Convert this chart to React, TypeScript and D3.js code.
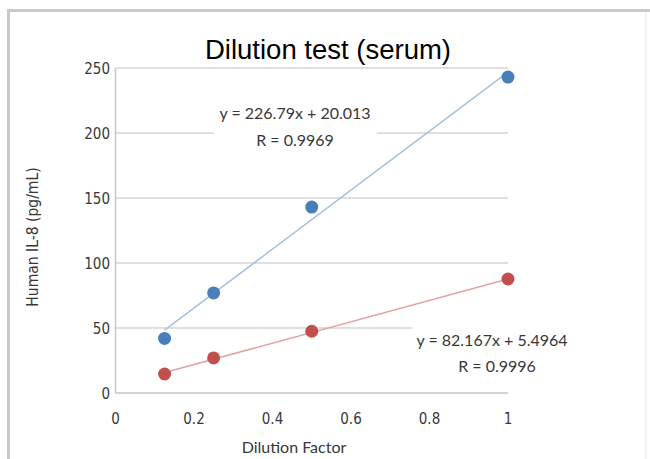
import React from "react";
import * as d3 from "d3";

const dilution = [0.125, 0.25, 0.5, 1];
const serumA = [42, 77, 143, 243];
const serumB = [14.6, 27, 47.5, 87.7];
const fitA = { slope: 226.79, intercept: 20.013, eq: "y = 226.79x + 20.013", r: "R = 0.9969" };
const fitB = { slope: 82.167, intercept: 5.4964, eq: "y = 82.167x + 5.4964", r: "R = 0.9996" };
const xTicks = [0, 0.2, 0.4, 0.6, 0.8, 1];
const yTicks = [0, 50, 100, 150, 200, 250];

export default function App() {
  const W = 650, H = 459;
  const x = d3.scaleLinear().domain([0, 1]).range([115.5, 508]);
  const y = d3.scaleLinear().domain([0, 250]).range([393, 68]);
  const fitLine = (f: typeof fitA) =>
    d3.line<number>().x((d) => x(d)).y((d) => y(f.slope * d + f.intercept))([dilution[0], dilution[dilution.length - 1]]) || "";
  const tickFont = "DejaVu Sans, sans-serif";
  const tickStyle = { fontStretch: "condensed" as const };
  const eqFont = "Lato, Open Sans, sans-serif";
  return (
    <svg width={W} height={H} style={{ position: "absolute", left: 0, top: 0, background: "#fff" }}>
      <rect x={0} y={0} width={W} height={H} fill="#fff" />
      {/* frame */}
      <line x1={8.5} y1={9} x2={8.5} y2={H} stroke="#c9c9c9" strokeWidth={3} />
      <line x1={7} y1={10.5} x2={W} y2={10.5} stroke="#c9c9c9" strokeWidth={3} />
      <line x1={646} y1={12} x2={646} y2={H} stroke="#f0f0f0" strokeWidth={1.5} />
      {/* gridlines */}
      {yTicks.filter((t) => t > 0).map((t) => (
        <line key={t} x1={x(0)} x2={x(1)} y1={y(t)} y2={y(t)} stroke="#d6d6d6" strokeWidth={1.5} />
      ))}
      {/* axes */}
      <line x1={x(0)} x2={x(0)} y1={y(250)} y2={y(0)} stroke="#c6c6c6" strokeWidth={1.5} />
      <line x1={x(0)} x2={x(1)} y1={y(0)} y2={y(0)} stroke="#c6c6c6" strokeWidth={1.5} />
      {/* tick labels */}
      {yTicks.map((t) => (
        <text key={t} x={110} y={y(t) + 5.5} textAnchor="end" fontFamily={tickFont} style={tickStyle} fontSize={15} fill="#383838">{t}</text>
      ))}
      {xTicks.map((t) => (
        <text key={t} x={x(t)} y={424} textAnchor="middle" fontFamily={tickFont} style={tickStyle} fontSize={15} fill="#383838">{d3.format("~g")(t)}</text>
      ))}
      {/* trendlines */}
      <path d={fitLine(fitA)} stroke="#a7bfe0" strokeWidth={1.5} fill="none" />
      <path d={fitLine(fitB)} stroke="#e4a3a1" strokeWidth={1.5} fill="none" />
      {/* points */}
      {dilution.map((d, i) => (
        <circle key={"a" + i} cx={x(d)} cy={y(serumA[i])} r={6.5} fill="#4a7ebb" />
      ))}
      {dilution.map((d, i) => (
        <circle key={"b" + i} cx={x(d)} cy={y(serumB[i])} r={6.5} fill="#c0504d" />
      ))}
      {/* equation labels */}
      <rect x={214} y={100} width={163} height={50} fill="#fff" />
      <text x={295} y={119} textAnchor="middle" fontFamily={eqFont} fontSize={16} fill="#383838">{fitA.eq}</text>
      <text x={295} y={146} textAnchor="middle" fontFamily={eqFont} fontSize={16} fill="#383838">{fitA.r}</text>
      <rect x={412} y={323} width={160} height={52} fill="#fff" />
      <text x={492} y={346} textAnchor="middle" fontFamily={eqFont} fontSize={16} fill="#383838">{fitB.eq}</text>
      <text x={497} y={372} textAnchor="middle" fontFamily={eqFont} fontSize={16} fill="#383838">{fitB.r}</text>
      {/* titles */}
      <text x={328} y={59} textAnchor="middle" fontFamily="Liberation Sans, Arial, sans-serif" fontSize={27.5} fill="#000">Dilution test (serum)</text>
      <text transform={`translate(38,237) rotate(-90)`} textAnchor="middle" fontFamily={tickFont} style={tickStyle} fontSize={15.5} fill="#383838">Human IL-8 (pg/mL)</text>
      <text x={294} y={453} textAnchor="middle" fontFamily={eqFont} fontSize={16} fill="#383838">Dilution Factor</text>
    </svg>
  );
}
